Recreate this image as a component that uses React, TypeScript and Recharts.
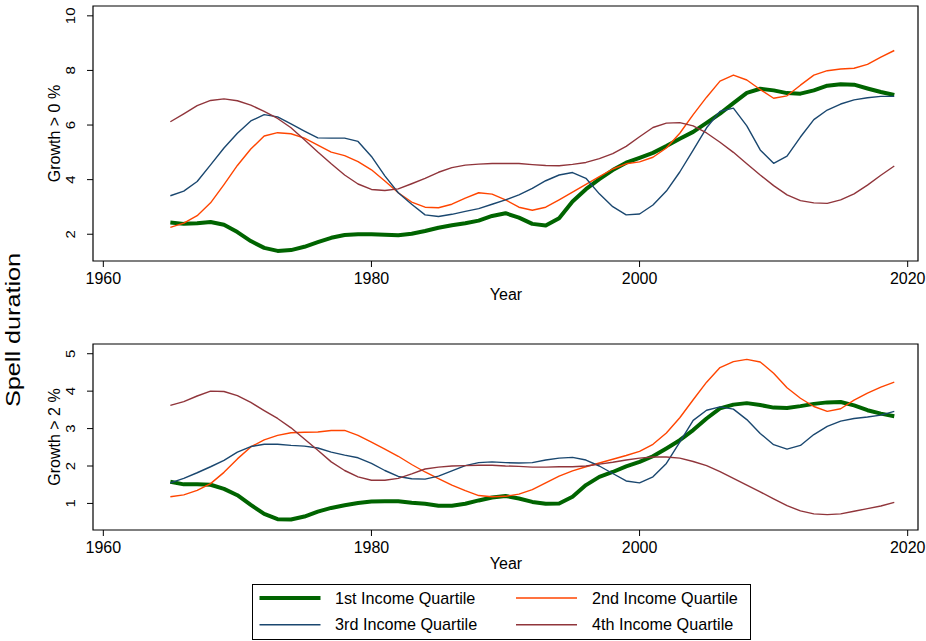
import React from 'react';
import { LineChart, Line, XAxis, YAxis, ReferenceArea, Legend } from 'recharts';

const years = [
  1965, 1966, 1967, 1968, 1969, 1970, 1971, 1972, 1973, 1974,
  1975, 1976, 1977, 1978, 1979, 1980, 1981, 1982, 1983, 1984,
  1985, 1986, 1987, 1988, 1989, 1990, 1991, 1992, 1993, 1994,
  1995, 1996, 1997, 1998, 1999, 2000, 2001, 2002, 2003, 2004,
  2005, 2006, 2007, 2008, 2009, 2010, 2011, 2012, 2013, 2014,
  2015, 2016, 2017, 2018, 2019,
];

// Panel 1: Growth > 0 %
const top1 = [
  2.43, 2.38, 2.40, 2.45, 2.35, 2.08, 1.75, 1.50, 1.39, 1.42,
  1.54, 1.71, 1.87, 1.97, 2.00, 2.00, 1.98, 1.96, 2.02, 2.12,
  2.24, 2.33, 2.40, 2.50, 2.67, 2.77, 2.61, 2.38, 2.32, 2.59,
  3.20, 3.65, 4.02, 4.35, 4.62, 4.80, 4.98, 5.23, 5.50, 5.75,
  6.08, 6.42, 6.80, 7.18, 7.33, 7.27, 7.17, 7.15, 7.27, 7.44,
  7.49, 7.48, 7.34, 7.21, 7.10,
];
const top2 = [
  2.25, 2.41, 2.68, 3.15, 3.82, 4.52, 5.12, 5.60, 5.72, 5.68,
  5.52, 5.26, 5.01, 4.88, 4.66, 4.36, 3.95, 3.52, 3.18, 2.99,
  2.97, 3.10, 3.32, 3.52, 3.47, 3.26, 2.99, 2.88, 2.99, 3.26,
  3.54, 3.83, 4.11, 4.39, 4.58, 4.65, 4.82, 5.16, 5.70, 6.38,
  7.02, 7.61, 7.83, 7.65, 7.30, 6.98, 7.07, 7.46, 7.83, 7.99,
  8.05, 8.08, 8.22, 8.49, 8.73,
];
const top3 = [
  3.41, 3.58, 3.93, 4.54, 5.16, 5.70, 6.15, 6.38, 6.30, 6.04,
  5.78, 5.53, 5.52, 5.52, 5.40, 4.85, 4.14, 3.52, 3.10, 2.71,
  2.65, 2.73, 2.84, 2.94, 3.10, 3.26, 3.44, 3.68, 3.96, 4.17,
  4.26, 4.05, 3.48, 3.01, 2.71, 2.74, 3.07, 3.58, 4.28, 5.08,
  5.90, 6.50, 6.62, 5.97, 5.09, 4.60, 4.86, 5.56, 6.20, 6.55,
  6.77, 6.92, 7.00, 7.05, 7.05,
];
const top4 = [
  6.12, 6.41, 6.71, 6.90, 6.96, 6.89, 6.73, 6.50, 6.24, 5.90,
  5.46, 5.01, 4.58, 4.17, 3.84, 3.64, 3.60, 3.66, 3.85, 4.05,
  4.27, 4.44, 4.53, 4.57, 4.59, 4.59, 4.59, 4.55, 4.52, 4.51,
  4.56, 4.63, 4.77, 4.95, 5.22, 5.57, 5.91, 6.07, 6.09, 5.97,
  5.71, 5.37, 5.00, 4.58, 4.17, 3.78, 3.44, 3.23, 3.15, 3.13,
  3.26, 3.48, 3.80, 4.16, 4.50,
];

// Panel 2: Growth > 2 %
const bot1 = [
  1.58, 1.51, 1.51, 1.50, 1.39, 1.22, 0.96, 0.72, 0.58, 0.57,
  0.65, 0.78, 0.88, 0.95, 1.01, 1.05, 1.06, 1.06, 1.02, 0.99,
  0.94, 0.94, 0.99, 1.08, 1.16, 1.20, 1.13, 1.04, 0.99, 1.00,
  1.18, 1.49, 1.71, 1.84, 1.99, 2.11, 2.26, 2.47, 2.69, 2.96,
  3.27, 3.54, 3.64, 3.68, 3.63, 3.56, 3.55, 3.60, 3.66, 3.70,
  3.71, 3.62, 3.49, 3.40, 3.33,
];
const bot2 = [
  1.18, 1.23, 1.35, 1.53, 1.83, 2.19, 2.51, 2.70, 2.82, 2.89,
  2.90, 2.91, 2.95, 2.95, 2.82, 2.64, 2.45, 2.26, 2.04, 1.84,
  1.66, 1.49, 1.34, 1.21, 1.18, 1.19, 1.25, 1.37, 1.55, 1.73,
  1.87, 1.98, 2.08, 2.18, 2.28, 2.39, 2.58, 2.88, 3.29, 3.77,
  4.24, 4.63, 4.79, 4.85, 4.78, 4.48, 4.09, 3.81, 3.59, 3.46,
  3.53, 3.76, 3.95, 4.11, 4.24,
];
const bot3 = [
  1.55, 1.67, 1.82, 1.98, 2.15, 2.37, 2.52, 2.58, 2.58, 2.55,
  2.53, 2.48, 2.37, 2.29, 2.22, 2.07, 1.88, 1.72, 1.66, 1.65,
  1.73, 1.87, 2.01, 2.09, 2.11, 2.09, 2.08, 2.09, 2.16, 2.21,
  2.23, 2.16, 2.00, 1.80, 1.60, 1.55, 1.71, 2.07, 2.64, 3.22,
  3.49, 3.58, 3.52, 3.24, 2.87, 2.57, 2.45, 2.55, 2.84, 3.06,
  3.20, 3.27, 3.31, 3.36, 3.46,
];
const bot4 = [
  3.62, 3.72, 3.87, 4.00, 3.99, 3.88, 3.70, 3.48, 3.27, 3.02,
  2.72, 2.42, 2.11, 1.88, 1.71, 1.62, 1.62, 1.67, 1.79, 1.92,
  1.97, 2.00, 2.01, 2.02, 2.02, 2.00, 1.99, 1.97, 1.97, 1.98,
  1.98, 2.00, 2.05, 2.10, 2.16, 2.21, 2.24, 2.24, 2.21, 2.12,
  2.01, 1.85, 1.67, 1.49, 1.31, 1.12, 0.94, 0.80, 0.72, 0.70,
  0.72, 0.79, 0.86, 0.93, 1.03,
];

const seriesNames = ['1st Income Quartile', '2nd Income Quartile', '3rd Income Quartile', '4th Income Quartile'];
const xTicks = [1960, 1980, 2000, 2020];
const topTicks = [2, 4, 6, 8, 10];
const botTicks = [1, 2, 3, 4, 5];
const xDomain = [1959.23, 2020.77];
const topDomain = [1.02, 10.36];
const botDomain = [0.29, 5.26];

const series = [
  { key: 'q1', name: seriesNames[0], color: '#006400', width: 4 },
  { key: 'q2', name: seriesNames[1], color: '#ff4500', width: 1.4 },
  { key: 'q3', name: seriesNames[2], color: '#1a476f', width: 1.4 },
  { key: 'q4', name: seriesNames[3], color: '#90353b', width: 1.4 },
];

const FONT = "'Liberation Sans', Arial, Helvetica, sans-serif";

const topData = years.map((year, i) => ({ year, q1: top1[i], q2: top2[i], q3: top3[i], q4: top4[i] }));
const botData = years.map((year, i) => ({ year, q1: bot1[i], q2: bot2[i], q3: bot3[i], q4: bot4[i] }));

const XTick = (props: any) => {
  const { x, y, payload } = props;
  return (
    <text x={x} y={y + 15} textAnchor="middle" fontSize={16} fontFamily={FONT} fill="#000">
      {payload.value}
    </text>
  );
};

const YTick = (props: any) => {
  const { x, y, payload } = props;
  const tx = x - 10;
  return (
    <text
      x={0}
      y={0}
      transform={`translate(${tx} ${y}) rotate(-90) scale(1.15 1)`}
      textAnchor="middle"
      fontSize={13}
      fontFamily={FONT}
      fill="#000"
    >
      {payload.value}
    </text>
  );
};

const LegendContent = (props: any) => {
  const payload = props.payload || [];
  return (
    <svg width={499} height={56} style={{ display: 'block' }}>
      <rect x={0.5} y={0.5} width={498} height={55} fill="#fff" stroke="#000" strokeWidth={1} />
      {payload.map((entry: any, i: number) => {
        const s = series.find((d) => d.key === entry.dataKey) || series[i];
        const col = i % 2;
        const row = Math.floor(i / 2);
        const lx = col ? 264 : 7.5;
        const cy = row ? 40.7 : 14;
        const tx = col ? 340 : 83;
        return (
          <g key={s.key}>
            <line x1={lx} x2={lx + 61} y1={cy} y2={cy} stroke={s.color} strokeWidth={s.width} />
            <text x={tx} y={cy + 5.7} fontSize={16.2} fontFamily={FONT} fill="#000">
              {entry.value}
            </text>
          </g>
        );
      })}
    </svg>
  );
};

const renderLines = () =>
  series.map((s) => (
    <Line
      key={s.key}
      type="linear"
      dataKey={s.key}
      name={s.name}
      stroke={s.color}
      strokeWidth={s.width}
      dot={false}
      activeDot={false}
      isAnimationActive={false}
      strokeLinejoin="round"
    />
  ));

export default function App() {
  return (
    <div style={{ position: 'absolute', left: 0, top: 0, width: 926, height: 641, background: '#fff', fontFamily: FONT }}>
      <div style={{ position: 'absolute', left: 0, top: 0 }}>
        <LineChart width={926} height={310} data={topData} margin={{ top: 6, right: 8, bottom: 0, left: 0 }}>
          <XAxis
            dataKey="year"
            type="number"
            domain={xDomain}
            ticks={xTicks}
            allowDataOverflow
            axisLine={false}
            stroke="#000"
            tickSize={6}
            tickMargin={2}
            height={49}
            tick={<XTick />}
          />
          <YAxis
            type="number"
            domain={topDomain}
            ticks={topTicks}
            allowDataOverflow
            axisLine={false}
            stroke="#000"
            tickSize={6}
            tickMargin={2}
            width={93}
            tick={<YTick />}
          />
          <ReferenceArea x1={xDomain[0]} x2={xDomain[1]} y1={topDomain[0]} y2={topDomain[1]} fill="none" fillOpacity={0} stroke="#000" strokeWidth={1.2} ifOverflow="visible" />
          {renderLines()}
        </LineChart>
      </div>
      <div style={{ position: 'absolute', left: 0, top: 310 }}>
        <LineChart width={926} height={331} data={botData} margin={{ top: 34, right: 8, bottom: 62, left: 0 }}>
          <XAxis
            dataKey="year"
            type="number"
            domain={xDomain}
            ticks={xTicks}
            allowDataOverflow
            axisLine={false}
            stroke="#000"
            tickSize={6}
            tickMargin={2}
            height={49}
            tick={<XTick />}
          />
          <YAxis
            type="number"
            domain={botDomain}
            ticks={botTicks}
            allowDataOverflow
            axisLine={false}
            stroke="#000"
            tickSize={6}
            tickMargin={2}
            width={93}
            tick={<YTick />}
          />
          <ReferenceArea x1={xDomain[0]} x2={xDomain[1]} y1={botDomain[0]} y2={botDomain[1]} fill="none" fillOpacity={0} stroke="#000" strokeWidth={1.2} ifOverflow="visible" />
          {renderLines()}
          <Legend
            layout="horizontal"
            verticalAlign="middle"
            align="center"
            wrapperStyle={{ left: 252, top: 274, width: 499, height: 56 }}
            content={<LegendContent />}
          />
        </LineChart>
      </div>
      <svg width={926} height={641} style={{ position: 'absolute', left: 0, top: 0, pointerEvents: 'none' }}>
        <text x={0} y={0} transform="translate(20 330) rotate(-90) scale(1.2 1)" textAnchor="middle" fontSize={21} fontFamily={FONT} fill="#000">
          Spell duration
        </text>
        <text x={60} y={133.5} transform="rotate(-90 60 133.5)" textAnchor="middle" fontSize={16} fontFamily={FONT} fill="#000">
          Growth &gt; 0 %
        </text>
        <text x={60} y={437} transform="rotate(-90 60 437)" textAnchor="middle" fontSize={16} fontFamily={FONT} fill="#000">
          Growth &gt; 2 %
        </text>
        <text x={506} y={300} textAnchor="middle" fontSize={16} fontFamily={FONT} fill="#000">
          Year
        </text>
        <text x={506} y={569} textAnchor="middle" fontSize={16} fontFamily={FONT} fill="#000">
          Year
        </text>
      </svg>
    </div>
  );
}
